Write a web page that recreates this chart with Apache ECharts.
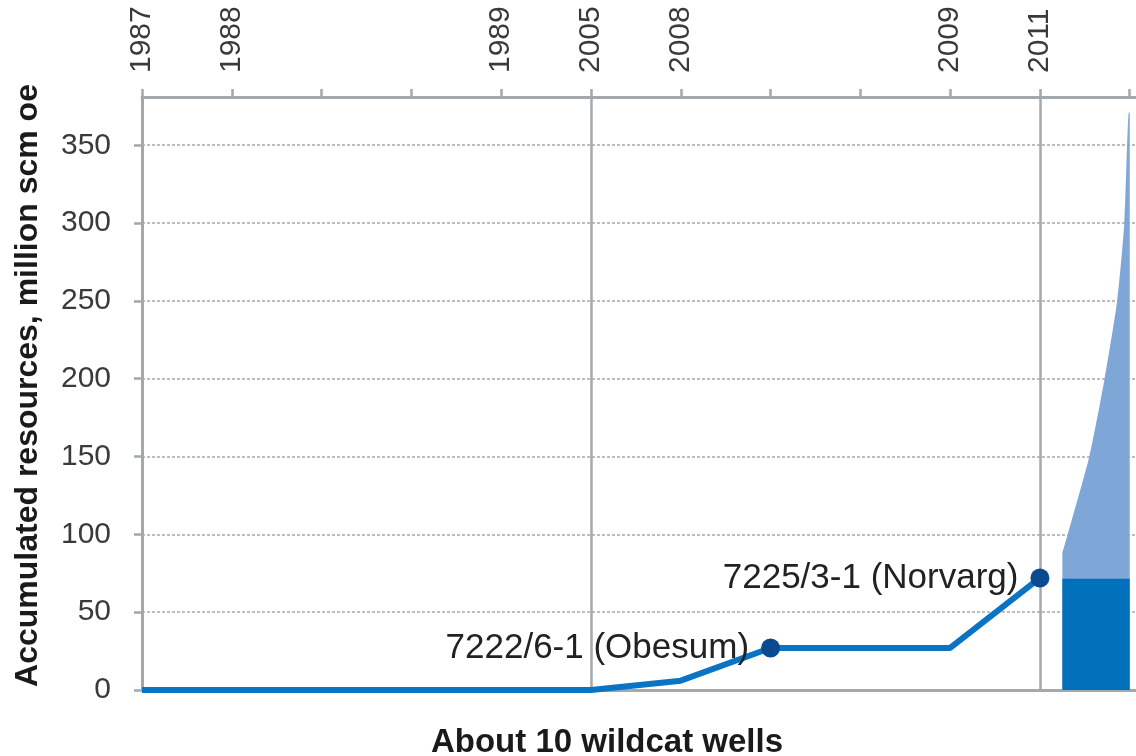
<!DOCTYPE html>
<html>
<head>
<meta charset="utf-8">
<script src="https://cdn.jsdelivr.net/npm/echarts@6/dist/echarts.min.js"></script>
<style>
html,body{margin:0;padding:0;background:#fff;}
#chart{width:1136px;height:756px;}
</style>
</head>
<body>
<div id="chart"></div>
<script>
// Well sequence (x positions) and accumulated resources (million scm oe)
var wellIndex = [0, 1, 2, 3, 4, 5, 6, 7, 8, 9, 10];
var accumulated = [0, 0, 0, 0, 0, 0, 6, 27, 27, 27, 72];
// Top axis year labels, one per tick position 0..11
var topTickLabels = ['1987', '1988', '', '', '1989', '2005', '2008', '', '', '2009', '2011', ''];
// Named discoveries
var discoveryIndex = [7, 10];
var discoveryNames = ['7222/6-1 (Obesum)', '7225/3-1 (Norvarg)'];
// Vertical reference lines (well positions)
var refLines = [5, 10];
// Future potential: proven block and uncertainty fan
var futureStart = 10.25, futureEnd = 11.0;
var provenLevel = 71.5;
var fanX = [10.25, 10.31, 10.55, 10.72, 10.86, 10.94, 10.99, 11.0];
var fanY = [88, 100, 150, 200, 250, 300, 371, 371];
var yTicks = [0, 50, 100, 150, 200, 250, 300, 350];

var axisGray = '#A3A8AC';
var chart = echarts.init(document.getElementById('chart'));

var lineData = wellIndex.map(function (x, i) {
  var k = discoveryIndex.indexOf(x);
  var d = { value: [x, accumulated[i]] };
  if (k >= 0) {
    d.symbol = 'circle';
    d.symbolSize = 19;
    d.label = { show: true, formatter: discoveryNames[k] };
  } else {
    d.symbol = 'none';
  }
  return d;
});

var fanData = fanX.map(function (x, i) { return [x, fanY[i]]; });

chart.setOption({
  animation: false,
  backgroundColor: '#ffffff',
  grid: { left: 142, right: 0, top: 97, bottom: 66, containLabel: false, outerBoundsMode: 'none' },
  xAxis: [
    {
      type: 'value', position: 'top', min: 0, max: 11.07, interval: 1,
      axisLine: { show: true, onZero: false, lineStyle: { color: axisGray, width: 3 } },
      axisTick: { show: true, inside: false, length: 8, lineStyle: { color: axisGray, width: 2.5 },
        customValues: [0, 1, 2, 3, 4, 5, 6, 7, 8, 9, 10, 11] },
      axisLabel: {
        show: true, rotate: -90, margin: 24, fontSize: 30,
        fontFamily: 'Liberation Sans', color: '#3a3a3a',
        customValues: [0, 1, 2, 3, 4, 5, 6, 7, 8, 9, 10],
        formatter: function (v) { return topTickLabels[Math.round(v)] || ''; }
      },
      splitLine: { show: false }
    },
    {
      type: 'value', position: 'bottom', min: 0, max: 11.07,
      axisLine: { show: true, onZero: false, lineStyle: { color: axisGray, width: 3 } },
      axisTick: { show: false }, axisLabel: { show: false }, splitLine: { show: false },
      name: 'About 10 wildcat wells', nameLocation: 'middle', nameGap: 36,
      nameTextStyle: { fontSize: 33, fontWeight: 'bold', fontFamily: 'Liberation Sans', color: '#1a1a1a', padding: [0, 64, 0, 0] }
    }
  ],
  yAxis: {
    type: 'value', min: 0, max: 381, interval: 50,
    axisLine: { show: true, lineStyle: { color: axisGray, width: 3 } },
    axisTick: { show: true, inside: false, length: 8, lineStyle: { color: axisGray, width: 2.5 }, customValues: yTicks },
    axisLabel: { margin: 31, fontSize: 30, fontFamily: 'Liberation Sans', color: '#3a3a3a', customValues: yTicks },
    splitLine: { show: true, lineStyle: { color: '#BDBDBD', width: 2, type: [3, 2] } },
    name: 'Accumulated resources, million scm oe', nameLocation: 'middle', nameGap: 98,
    nameTextStyle: { fontSize: 32, fontWeight: 'bold', fontFamily: 'Liberation Sans', color: '#1a1a1a', padding: [0, 0, 0, 16] }
  },
  series: [
    {
      type: 'line', xAxisIndex: 0, data: fanData, symbol: 'none', smooth: 0.2,
      lineStyle: { width: 0 }, itemStyle: { color: '#7EA7D8' },
      areaStyle: { color: '#7EA7D8', opacity: 1 }, z: 2
    },
    {
      type: 'line', xAxisIndex: 0, data: [[futureStart, provenLevel], [futureEnd, provenLevel]], symbol: 'none',
      lineStyle: { width: 0 }, itemStyle: { color: '#0070BA' },
      areaStyle: { color: '#0070BA', opacity: 1 }, z: 3
    },
    {
      type: 'line', xAxisIndex: 0, data: lineData, z: 5,
      lineStyle: { color: '#0A74C4', width: 6 },
      itemStyle: { color: '#0B4A8E' },
      label: { position: 'left', distance: 12, fontSize: 35, fontFamily: 'Liberation Sans', color: '#222' },
      markLine: {
        silent: true, symbol: 'none', label: { show: false },
        lineStyle: { color: axisGray, width: 2.5, type: 'solid' },
        data: refLines.map(function (v) { return { xAxis: v }; }),
        z: 1
      }
    }
  ]
});
</script>
</body>
</html>
